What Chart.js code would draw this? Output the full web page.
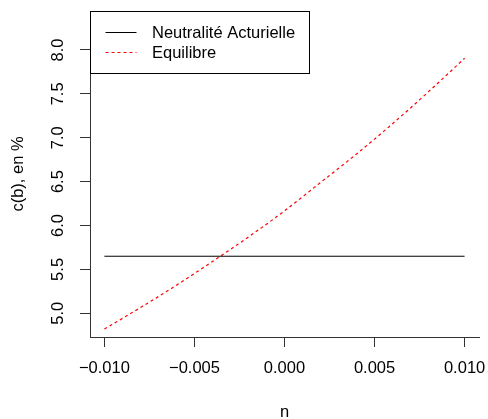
<!DOCTYPE html>
<html><head><meta charset="utf-8">
<style>html,body{margin:0;padding:0;background:#fff}#wrap{width:488px;height:419px}</style>
<script src="https://cdn.jsdelivr.net/npm/chart.js@4"></script>
</head><body><div id="wrap"><canvas id="c" width="488" height="419"></canvas></div>
<script>
const nValues = [-0.010,-0.008,-0.006,-0.004,-0.002,0.000,0.002,0.004,0.006,0.008,0.010];
const equilibre = [4.82,5.065,5.32,5.59,5.87,6.167,6.49,6.815,7.16,7.525,7.905];
const neutraliteN = [-0.010, 0.010];
const neutralite = [5.65, 5.65];
const xTicks = [-0.010,-0.005,0.000,0.005,0.010];
const xTickLabels = ['\u22120.010','\u22120.005','0.000','0.005','0.010'];
const yTicks = [5.0,5.5,6.0,6.5,7.0,7.5,8.0];
const yTickLabels = ['5.0','5.5','6.0','6.5','7.0','7.5','8.0'];
const seriesLabels = ['Neutralité Acturielle','Equilibre'];
const xTitle = 'n';
const yTitle = 'c(b), en %';

const FONT = '"Liberation Sans", Arial, sans-serif';
const FS = 16.5;
Chart.defaults.font.family = FONT;
Chart.defaults.font.size = FS;
Chart.defaults.color = '#000';

const axisColor = '#333';

const customPlugin = {
  id: 'rstyle',
  afterDraw(chart) {
    const ctx = chart.ctx;
    const ys = chart.scales.y;
    const ca = chart.chartArea;
    ctx.save();
    ctx.font = FS + 'px ' + FONT;
    ctx.fillStyle = '#000';
    ctx.textAlign = 'center';
    ctx.textBaseline = 'middle';
    yTicks.forEach((v, i) => {
      const py = ys.getPixelForValue(v);
      ctx.save();
      ctx.translate(58.5, py);
      ctx.rotate(-Math.PI / 2);
      ctx.fillText(yTickLabels[i], 0, 0);
      ctx.restore();
    });
    const lx = ca.left, ly = ca.top, lw = 219, lh = 62;
    ctx.fillStyle = '#fff';
    ctx.fillRect(lx + 0.5, ly + 0.5, lw, lh);
    ctx.strokeStyle = '#000';
    ctx.lineWidth = 1;
    ctx.strokeRect(lx + 0.5, ly + 0.5, lw, lh);
    chart.data.datasets.forEach((ds, i) => {
      const yy = ly + 21.5 + i * 20;
      ctx.beginPath();
      ctx.strokeStyle = ds.borderColor;
      ctx.setLineDash(ds.borderDash || []);
      ctx.moveTo(lx + 15.5, yy);
      ctx.lineTo(lx + 46.5, yy);
      ctx.stroke();
      ctx.setLineDash([]);
      ctx.fillStyle = '#000';
      ctx.textAlign = 'left';
      ctx.textBaseline = 'middle';
      ctx.fillText(ds.label, lx + 62, yy + 1);
    });
    ctx.restore();
  }
};

new Chart(document.getElementById('c'), {
  type: 'line',
  data: {
    datasets: [
      {
        label: seriesLabels[0],
        data: neutraliteN.map((x, i) => ({x, y: neutralite[i]})),
        borderColor: '#000',
        borderWidth: 1,
        pointRadius: 0,
        fill: false
      },
      {
        label: seriesLabels[1],
        data: nValues.map((x, i) => ({x, y: equilibre[i]})),
        borderColor: '#ff0000',
        borderWidth: 1.2,
        borderDash: [3, 3],
        pointRadius: 0,
        cubicInterpolationMode: 'monotone',
        fill: false
      }
    ]
  },
  options: {
    responsive: false,
    animation: false,
    devicePixelRatio: 1,
    layout: { padding: { top: 11, right: 9, left: 0, bottom: 0 } },
    plugins: { legend: { display: false }, tooltip: { enabled: false } },
    scales: {
      x: {
        type: 'linear',
        min: -0.0108,
        max: 0.0108,
        afterBuildTicks: (s) => { s.ticks = xTicks.map(v => ({value: v})); },
        afterFit: (s) => { s.height = 82; s.paddingLeft = 0; s.paddingRight = 0; },
        ticks: {
          callback: (v) => { const i = xTicks.findIndex(t => Math.abs(t - v) < 1e-9); return i >= 0 ? xTickLabels[i] : ''; },
          padding: 12,
          maxRotation: 0,
          autoSkip: false,
          font: { size: FS }
        },
        grid: { display: true, drawOnChartArea: false, drawTicks: true, tickLength: 10, color: axisColor, lineWidth: 1 },
        border: { display: true, color: axisColor, width: 1 },
        title: { display: true, text: xTitle, font: { size: FS, lineHeight: 1 }, padding: { top: 0, bottom: -2 } }
      },
      y: {
        type: 'linear',
        min: 4.73,
        max: 8.444,
        afterBuildTicks: (s) => { s.ticks = yTicks.map(v => ({value: v})); },
        afterFit: (s) => { s.width = 90; s.paddingTop = 0; s.paddingBottom = 0; },
        ticks: { display: false },
        grid: { display: true, drawOnChartArea: false, drawTicks: true, tickLength: 10, color: axisColor, lineWidth: 1 },
        border: { display: true, color: axisColor, width: 1 },
        title: { display: true, text: yTitle, font: { size: FS, lineHeight: 1 }, padding: { top: 10.25, bottom: 0 } }
      }
    }
  },
  plugins: [customPlugin]
});
</script>
</body></html>
